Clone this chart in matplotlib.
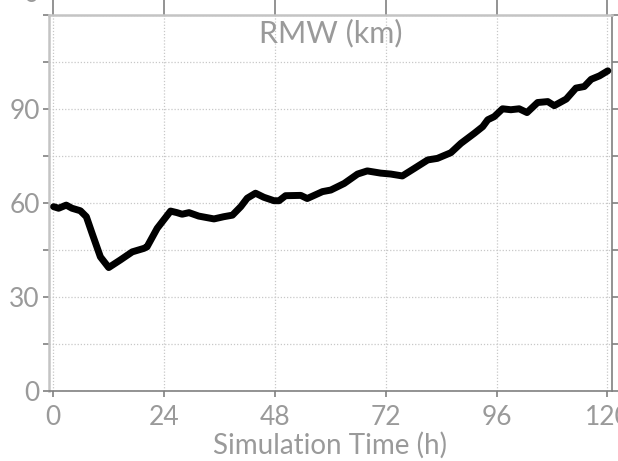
import matplotlib.pyplot as plt

# RMW time series read at irregular output times
hours = [0.07, 1.15, 2.8, 4.05, 5.86, 7.16, 8.4, 10.2, 12.0, 14.5, 17.1, 19.6,
         20.3, 22.5, 25.4, 26.8, 27.9, 29.4, 31.5, 34.8, 36.9, 38.8, 40.6, 42.0,
         43.8, 45.6, 47.8, 48.9, 50.3, 53.6, 55.0, 58.3, 60.1, 63.0, 65.9, 68.0,
         70.9, 73.1, 75.6, 78.2, 81.1, 83.2, 86.1, 88.3, 91.2, 93.0, 94.1, 95.5,
         97.3, 99.1, 100.9, 102.6, 104.9, 107.1, 108.5, 111.1, 113.2, 115.0,
         116.5, 118.3, 120.1]
rmw = [58.9, 58.4, 59.4, 58.4, 57.6, 55.7, 50.4, 42.9, 39.5, 41.9, 44.5, 45.6,
       46.1, 52.0, 57.5, 57.0, 56.5, 57.0, 55.9, 55.0, 55.7, 56.2, 58.9, 61.6,
       63.2, 61.9, 60.8, 60.8, 62.4, 62.5, 61.5, 63.7, 64.2, 66.3, 69.3, 70.3,
       69.6, 69.3, 68.7, 71.1, 73.8, 74.3, 76.1, 79.1, 82.3, 84.4, 86.6, 87.6,
       90.1, 89.8, 90.1, 88.9, 92.1, 92.4, 91.1, 93.2, 96.7, 97.2, 99.5, 100.6,
       102.2]

x_ticks = [0, 24, 48, 72, 96, 120]
y_ticks = [0, 15, 30, 45, 60, 75, 90, 105, 120]
y_labels = ['0', '', '30', '', '60', '', '90', '', '']

grey_txt = '#9a9a9a'
light = '#c4c4c4'
dark = '#808080'

plt.rcParams['font.family'] = ['Lato', 'DejaVu Sans']

fig = plt.figure(figsize=(6.18, 4.61), dpi=100)
ax = fig.add_axes([0.0793, 0.1508, 0.9107, 0.8167])

ax.plot(hours, rmw, color='black', linewidth=5.0, solid_capstyle='round',
        solid_joinstyle='round', zorder=3)

ax.set_xlim(-0.93, 120.97)
ax.set_ylim(0, 120)
ax.set_xticks(x_ticks)
ax.set_yticks(y_ticks)
ax.set_yticklabels(y_labels)

ax.grid(True, color='#c8c8c8', linestyle=(0, (1, 1.5)), linewidth=0.9)

for side in ('left', 'top'):
    ax.spines[side].set_color(light)
    ax.spines[side].set_linewidth(1.8)
for side in ('bottom', 'right'):
    ax.spines[side].set_color(dark)
    ax.spines[side].set_linewidth(1.2)

# short ticks below, long ones above the frame
ax.tick_params(axis='x', direction='out', length=4, width=1.2, color=dark,
               labelsize=19, labelcolor=grey_txt, pad=6, top=True,
               labeltop=False)
for t in ax.xaxis.get_major_ticks():
    t.tick1line.set_markersize(4)
    t.tick2line.set_markersize(11)
ax.tick_params(axis='y', direction='out', length=4.5, width=1.2, color=dark,
               labelsize=19, labelcolor=grey_txt, pad=2, right=True)

ax.set_xlabel('Simulation Time (h)', fontsize=20, color=grey_txt, labelpad=1)
ax.text(0.5, 0.928, 'RMW (km)', transform=ax.transAxes, ha='center',
        va='baseline', fontsize=22, color=grey_txt)

# lowest label of the panel above
fig.text(39 / 618, 1 + 5 / 461, '0', ha='right', va='center',
         fontsize=19, color=grey_txt)

fig.savefig('out.png', dpi=100)
